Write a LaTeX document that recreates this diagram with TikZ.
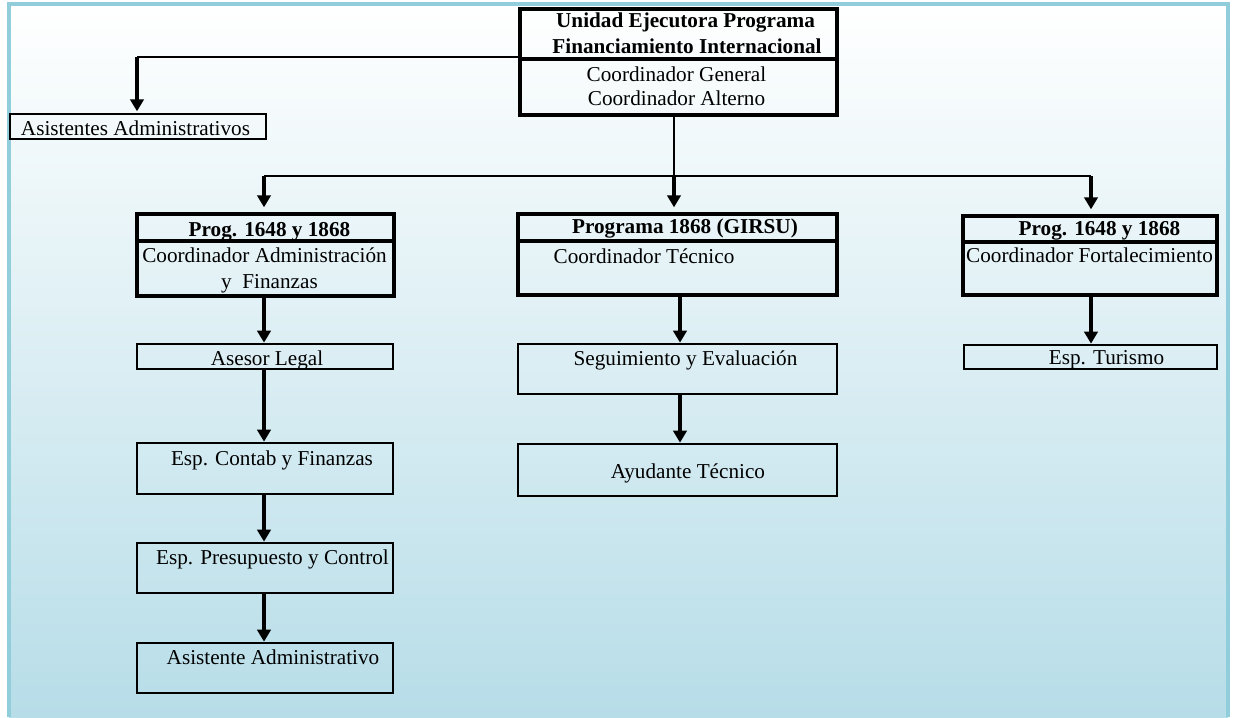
\documentclass[tikz,border=0pt]{standalone}
\usepackage{fontspec}
\setmainfont{Liberation Serif}
\usetikzlibrary{arrows.meta,fit}
\definecolor{framec}{RGB}{146,205,220}
\definecolor{bgbot}{RGB}{183,221,232}
\begin{document}
\begin{tikzpicture}[x=0.75pt,y=-0.75pt,
  font=\fontsize{15.9}{19}\selectfont,
  thickbox/.style={draw, line width=3pt, inner sep=0pt, outer sep=0pt},
  thinbox/.style={draw, line width=1.4pt, inner sep=0pt, outer sep=0pt},
  txt/.style={inner sep=0pt, anchor=base},
  btxt/.style={txt, font=\fontsize{15.9}{19}\selectfont\bfseries},
  link/.style={line width=0.9pt},
  arr/.style={line width=2.4pt, -{Triangle[width=10pt,length=9pt]}}]
\useasboundingbox (0,0) rectangle (1234,717);
\shade[top color=white, bottom color=bgbot] (9,4) rectangle (1228,717);
\draw[framec, line width=2.4pt] (9,717) -- (9,4) -- (1228,4) -- (1228,717);

% top box
\node[thickbox, fit={(520,9)(837,59)}] (topH) {};
\node[thickbox, fit={(520,59)(837,115)}] (topB) {};
\node[btxt] (t1) at (685.5,28) {Unidad Ejecutora Programa};
\node[btxt] (t2) at (687,54) {Financiamiento Internacional};
\node[txt] (t3) at (676.5,81) {Coordinador General};
\node[txt] (t4) at (676.5,105) {Coordinador Alterno};

% asistentes
\node[thinbox, fit={(10,114)(266,139)}] (asis) {};
\node[txt] (asisT) at (135.5,135) {Asistentes Administrativos};

% left column
\node[thickbox, fit={(137,214)(394,241)}] (L1h) {};
\node[thickbox, fit={(137,241)(394,296)}] (L1b) {};
\node[btxt] (l1) at (269.5,236) {Prog. 1648 y 1868};
\node[txt] (l2) at (264.5,262) {Coordinador Administración};
\node[txt] (l3) at (269.5,288) {y\ \ Finanzas};
\node[thinbox, fit={(137,344)(393,369)}] (L2) {};
\node[txt] (l4) at (267,365) {Asesor Legal};
\node[thinbox, fit={(137,443)(393,494)}] (L3) {};
\node[txt] (l5) at (272,465) {Esp. Contab y Finanzas};
\node[thinbox, fit={(137,543)(393,593)}] (L4) {};
\node[txt] (l6) at (272.5,564) {Esp. Presupuesto y Control};
\node[thinbox, fit={(137,643)(393,693)}] (L5) {};
\node[txt] (l7) at (273,664) {Asistente Administrativo};

% middle column
\node[thickbox, fit={(518,214)(837,241)}] (M1h) {};
\node[thickbox, fit={(518,241)(837,295)}] (M1b) {};
\node[btxt] (m1) at (685,233) {Programa 1868 (GIRSU)};
\node[txt] (m2) at (644,263) {Coordinador Técnico};
\node[thinbox, fit={(518,344)(837,394)}] (M2) {};
\node[txt] (m3) at (685.5,365) {Seguimiento y Evaluación};
\node[thinbox, fit={(518,444)(837,496)}] (M3) {};
\node[txt] (m4) at (688,478) {Ayudante Técnico};

% right column
\node[thickbox, fit={(963,216)(1217,242)}] (R1h) {};
\node[thickbox, fit={(963,242)(1217,295)}] (R1b) {};
\node[btxt] (r1) at (1099.5,235) {Prog. 1648 y 1868};
\node[txt] (r2) at (1089.5,262) {Coordinador Fortalecimiento};
\node[thinbox, fit={(964,345)(1217,369)}] (R2) {};
\node[txt] (r3) at (1106.5,364) {Esp. Turismo};

% connectors
\coordinate (ka) at (137,57);
\coordinate (kb) at (520,57);
\draw[link] (kb) -- (ka);
\draw[arr] (ka) -- ([yshift=2pt]ka |- asis.north);

\coordinate (bL) at (264,176);
\coordinate (bM) at (674,176);
\coordinate (bR) at (1091,176);
\coordinate (cM) at (680,176);
\draw[link] (topB.south -| bM) -- (bM);
\draw[link] (bL) -- (bR);
\draw[arr] (bL) -- ([yshift=5pt]bL |- L1h.north);
\draw[arr] (bM) -- ([yshift=5pt]bM |- M1h.north);
\draw[arr] (bR) -- ([yshift=5pt]bR |- R1h.north);

\draw[arr] (L1b.south -| bL) -- ([yshift=1pt]L2.north -| bL);
\draw[arr] (L2.south -| bL) -- ([yshift=1pt]L3.north -| bL);
\draw[arr] (L3.south -| bL) -- ([yshift=1pt]L4.north -| bL);
\draw[arr] (L4.south -| bL) -- ([yshift=1pt]L5.north -| bL);

\draw[arr] (M1b.south -| cM) -- ([yshift=1pt]M2.north -| cM);
\draw[arr] (M2.south -| cM) -- ([yshift=1pt]M3.north -| cM);

\draw[arr] (R1b.south -| bR) -- ([yshift=1pt]R2.north -| bR);
\end{tikzpicture}
\end{document}
